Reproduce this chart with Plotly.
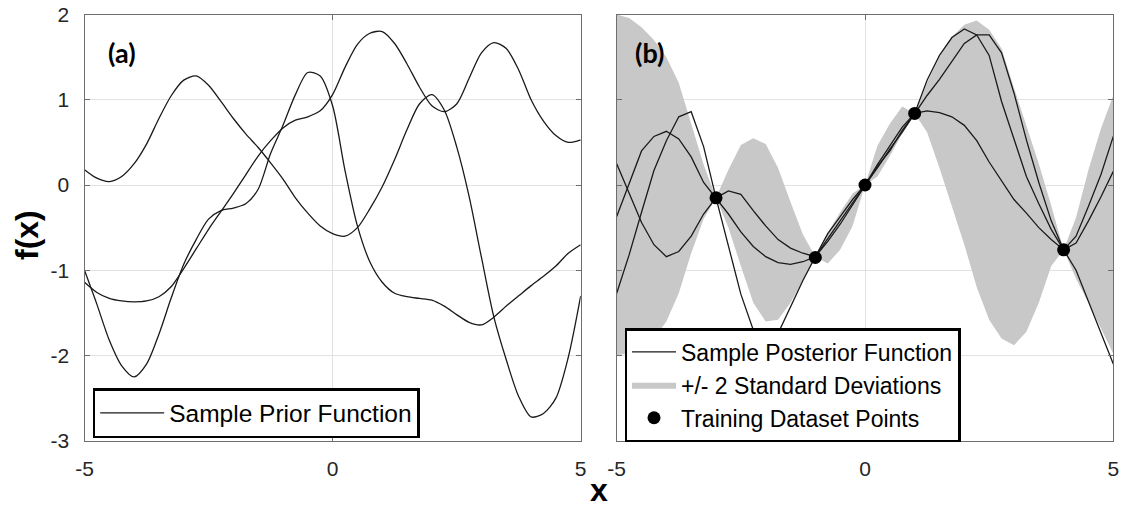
import plotly.graph_objects as go

# ---------------- data ----------------
x_grid = [-5.0, -4.75, -4.5, -4.25, -4.0, -3.75, -3.5, -3.25, -3.0, -2.75,
          -2.5, -2.25, -2.0, -1.75, -1.5, -1.25, -1.0, -0.75, -0.5, -0.25,
          0.0, 0.25, 0.5, 0.75, 1.0, 1.25, 1.5, 1.75, 2.0, 2.25,
          2.5, 2.75, 3.0, 3.25, 3.5, 3.75, 4.0, 4.25, 4.5, 4.75, 5.0]

# (a) samples drawn from the GP prior
prior_1 = [0.18, 0.08, 0.04, 0.10, 0.25, 0.48, 0.78, 1.05, 1.23, 1.28,
           1.17, 0.98, 0.78, 0.60, 0.44, 0.26, 0.07, -0.15, -0.33, -0.48,
           -0.57, -0.60, -0.50, -0.28, -0.02, 0.30, 0.65, 0.95, 1.06, 0.88,
           0.45, -0.13, -0.85, -1.55, -2.05, -2.48, -2.72, -2.68, -2.50, -2.02, -1.30]
prior_2 = [-1.00, -1.40, -1.82, -2.12, -2.25, -2.10, -1.75, -1.32, -0.93, -0.64,
           -0.40, -0.30, -0.27, -0.22, -0.05, 0.37, 0.70, 1.06, 1.32, 1.28,
           0.93, 0.17, -0.48, -0.90, -1.14, -1.27, -1.31, -1.33, -1.35, -1.42,
           -1.52, -1.61, -1.64, -1.55, -1.42, -1.30, -1.18, -1.07, -0.95, -0.80, -0.70]
prior_3 = [-1.14, -1.26, -1.33, -1.36, -1.37, -1.36, -1.31, -1.19, -0.98, -0.75,
           -0.52, -0.31, -0.10, 0.12, 0.34, 0.52, 0.67, 0.76, 0.80, 0.87,
           1.06, 1.38, 1.65, 1.78, 1.80, 1.66, 1.42, 1.15, 0.93, 0.86,
           0.95, 1.25, 1.55, 1.67, 1.60, 1.35, 1.00, 0.75, 0.58, 0.50, 0.53]

# (b) posterior: training data, +/- 2 sigma band and three samples
train_x = [-3.0, -1.0, 0.0, 1.0, 4.0]
train_y = [-0.15, -0.85, 0.0, 0.84, -0.76]

band_upper = [2.00, 1.96, 1.85, 1.70, 1.50, 1.20, 0.72, 0.24, -0.15, 0.18,
              0.47, 0.55, 0.48, 0.20, -0.20, -0.58, -0.84, -0.56, -0.32, -0.10,
              0.00, 0.46, 0.72, 0.92, 0.84, 1.20, 1.50, 1.74, 1.88, 1.93,
              1.82, 1.60, 1.14, 0.70, 0.25, -0.24, -0.76, -0.38, 0.18, 0.66, 1.05]
band_lower = [-2.00, -1.97, -1.90, -1.80, -1.60, -1.27, -0.80, -0.40, -0.15, -0.50,
              -0.95, -1.38, -1.60, -1.58, -1.38, -1.12, -0.84, -0.92, -0.76, -0.48,
              0.00, 0.10, 0.34, 0.60, 0.84, 0.62, 0.20, -0.25, -0.70, -1.20,
              -1.58, -1.80, -1.88, -1.72, -1.38, -0.95, -0.76, -1.10, -1.38, -1.68, -1.98]

post_1 = [-1.27, -0.82, -0.32, 0.17, 0.52, 0.80, 0.86, 0.45, -0.15, -0.72,
          -1.28, -1.70, -1.90, -1.74, -1.42, -1.12, -0.84, -0.57, -0.37, -0.17,
          0.00, 0.24, 0.46, 0.68, 0.84, 1.23, 1.52, 1.73, 1.83, 1.76,
          1.52, 0.98, 0.54, 0.10, -0.22, -0.52, -0.76, -0.60, -0.25, 0.12, 0.57]
post_2 = [0.25, -0.10, -0.44, -0.70, -0.84, -0.78, -0.60, -0.34, -0.15, -0.07,
          -0.11, -0.30, -0.48, -0.64, -0.74, -0.80, -0.84, -0.63, -0.42, -0.20,
          0.00, 0.20, 0.42, 0.62, 0.84, 1.05, 1.24, 1.45, 1.66, 1.76,
          1.76, 1.55, 1.08, 0.53, 0.03, -0.42, -0.76, -0.68, -0.42, -0.14, 0.16]
post_3 = [-0.37, 0.02, 0.40, 0.57, 0.63, 0.54, 0.33, 0.03, -0.15, -0.34,
          -0.55, -0.72, -0.84, -0.91, -0.93, -0.90, -0.84, -0.66, -0.46, -0.23,
          0.00, 0.22, 0.40, 0.64, 0.84, 0.87, 0.85, 0.80, 0.70, 0.52,
          0.27, 0.05, -0.17, -0.33, -0.50, -0.64, -0.76, -1.00, -1.36, -1.72, -2.10]

x_ticks = [-5, 0, 5]
x_tick_labels = ["-5", "0", "5"]
y_ticks = [-3, -2, -1, 0, 1, 2]
y_tick_labels = ["-3", "-2", "-1", "0", "1", "2"]

# ---------------- styling ----------------
W, H = 1122, 510
SANS = "Liberation Sans, Arial, sans-serif"
TICK_FONT = dict(family=SANS, size=21, color="#262626")
AXIS_COLOR = "#6e6e6e"
GRID_COLOR = "#e2e2e2"
LINE_COLOR = "#1a1a1a"
BAND_COLOR = "#c8c8c8"

fig = go.Figure()

# prior samples (left panel)
for i, ys in enumerate([prior_1, prior_2, prior_3]):
    fig.add_trace(go.Scatter(
        x=x_grid, y=ys, mode="lines", xaxis="x", yaxis="y",
        line=dict(color=LINE_COLOR, width=1.3, shape="spline", smoothing=0.8),
        name="Sample Prior Function", showlegend=(i == 0), legend="legend"))

# posterior band (right panel)
fig.add_trace(go.Scatter(
    x=x_grid, y=band_lower, mode="lines", xaxis="x2", yaxis="y2",
    line=dict(width=0, color=BAND_COLOR), showlegend=False, hoverinfo="skip"))
fig.add_trace(go.Scatter(
    x=x_grid, y=band_upper, mode="lines", xaxis="x2", yaxis="y2",
    line=dict(width=0, color=BAND_COLOR), fill="tonexty", fillcolor=BAND_COLOR,
    name="+/- 2 Standard Deviations", legend="legend2", legendrank=2))

# posterior samples
for i, ys in enumerate([post_1, post_2, post_3]):
    fig.add_trace(go.Scatter(
        x=x_grid, y=ys, mode="lines", xaxis="x2", yaxis="y2",
        line=dict(color=LINE_COLOR, width=1.3),
        name="Sample Posterior Function", showlegend=(i == 0),
        legend="legend2", legendrank=1))

# training points
fig.add_trace(go.Scatter(
    x=train_x, y=train_y, mode="markers", xaxis="x2", yaxis="y2",
    marker=dict(color="#000000", size=13),
    name="Training Dataset Points", legend="legend2", legendrank=3))

x_dom_a = [84.5 / W, 580.7 / W]
x_dom_b = [616.7 / W, 1113.3 / W]
y_dom = [1 - 440.8 / H, 1 - 14.5 / H]

axis_common = dict(
    showline=True, linecolor=AXIS_COLOR, linewidth=1, mirror="ticks",
    ticks="inside", ticklen=5, tickcolor=AXIS_COLOR, tickwidth=1,
    showgrid=True, gridcolor=GRID_COLOR, gridwidth=1, zeroline=False,
    tickfont=TICK_FONT, automargin=False)

fig.update_layout(
    width=W, height=H, margin=dict(l=0, r=0, t=0, b=0, autoexpand=False),
    paper_bgcolor="white", plot_bgcolor="white",
    xaxis=dict(domain=x_dom_a, range=[-5, 5], tickvals=x_ticks, ticktext=x_tick_labels,
               anchor="y", ticklabelstandoff=9, **axis_common),
    yaxis=dict(domain=y_dom, range=[-3, 2], tickvals=y_ticks, ticktext=y_tick_labels,
               anchor="x", ticklabelstandoff=10, **axis_common),
    xaxis2=dict(domain=x_dom_b, range=[-5, 5], tickvals=x_ticks, ticktext=x_tick_labels,
                anchor="y2", ticklabelstandoff=9, **axis_common),
    yaxis2=dict(domain=y_dom, range=[-3, 2], tickvals=y_ticks,
                anchor="x2", showticklabels=False, **axis_common),
    legend=dict(x=92.7 / W, y=1 - 388 / H, xanchor="left", yanchor="top",
                bgcolor="white", bordercolor="#000000", borderwidth=2.5,
                font=dict(family=SANS, size=24.5, color="#000000"), itemwidth=64),
    legend2=dict(x=624.5 / W, y=1 - 328 / H, xanchor="left", yanchor="top",
                 bgcolor="white", bordercolor="#000000", borderwidth=2.5,
                 font=dict(family=SANS, size=23, color="#000000"),
                 itemwidth=44, traceorder="normal"),
    showlegend=True,
    annotations=[
        dict(text="<b>(a)</b>", x=106 / W, y=1 - 53 / H, xref="paper", yref="paper",
             xanchor="left", yanchor="middle", showarrow=False,
             font=dict(family="Lato, " + SANS, size=27, color="#000000")),
        dict(text="<b>(b)</b>", x=632.5 / W, y=1 - 53 / H, xref="paper", yref="paper",
             xanchor="left", yanchor="middle", showarrow=False,
             font=dict(family="Lato, " + SANS, size=27, color="#000000")),
        dict(text="<b>f(x)</b>", x=27 / W, y=1 - 235 / H, xref="paper", yref="paper",
             xanchor="center", yanchor="middle", textangle=-90, showarrow=False,
             font=dict(family=SANS, size=32, color="#000000")),
        dict(text="<b>x</b>", x=599 / W, y=0, xref="paper", yref="paper",
             xanchor="center", yanchor="bottom", showarrow=False,
             font=dict(family=SANS, size=32, color="#000000")),
    ],
)

fig.write_html("out.html")
